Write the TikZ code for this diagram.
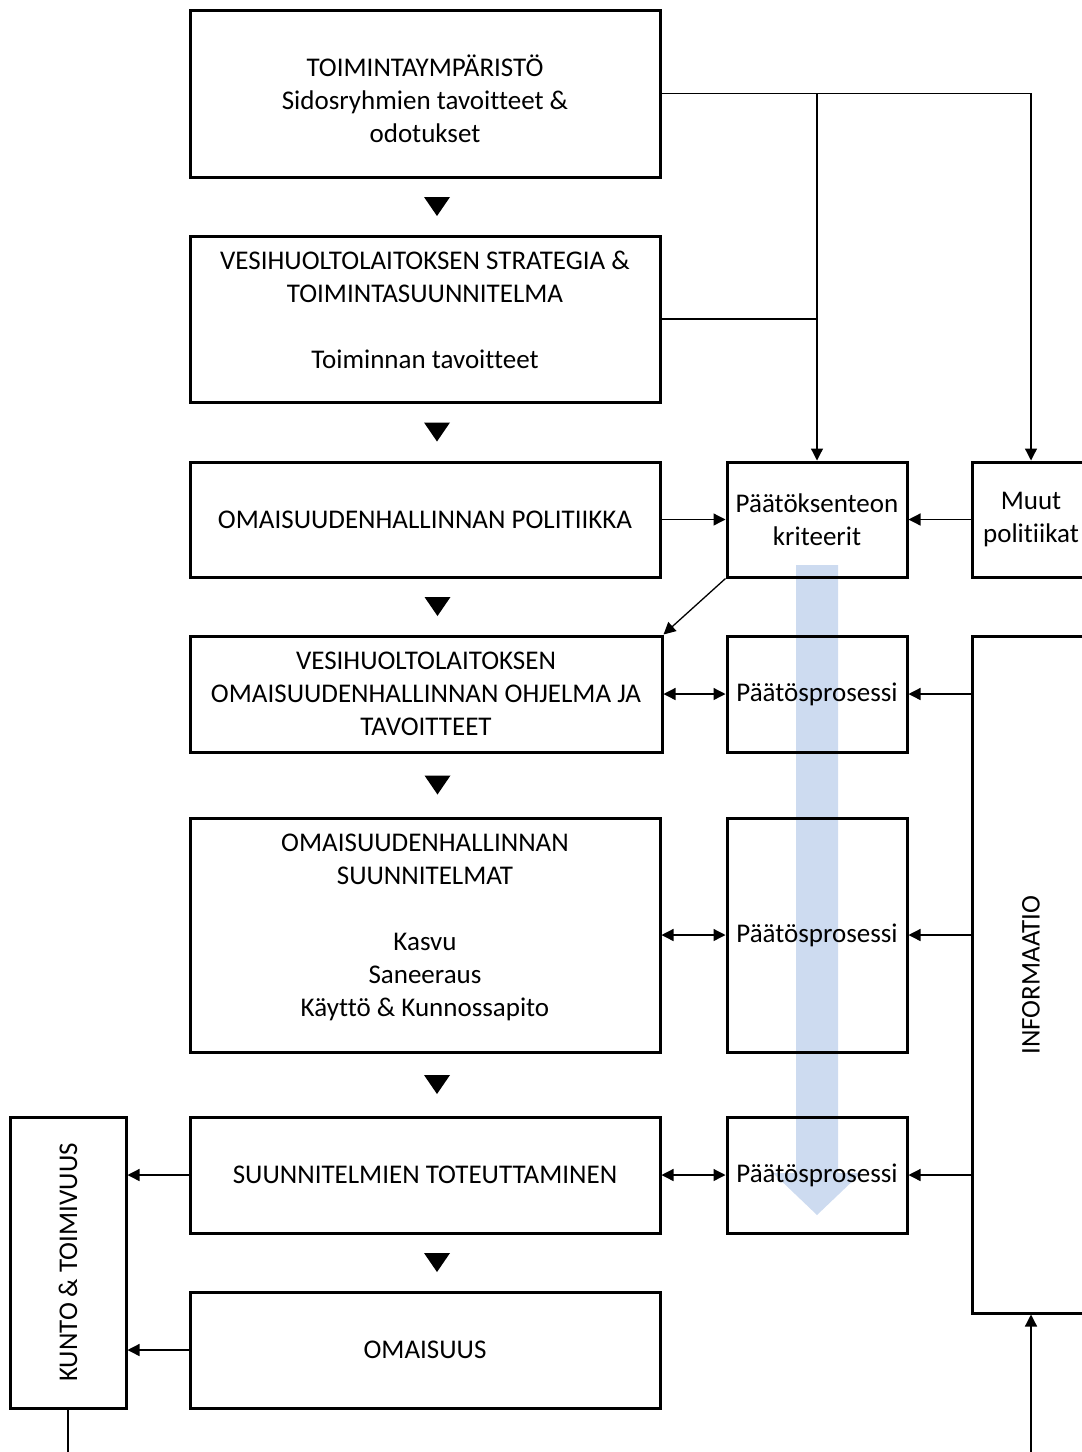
\documentclass[tikz,border=0pt]{standalone}
\usepackage{fontspec}
\setmainfont[Ligatures=NoCommon]{Carlito}
\usetikzlibrary{arrows.meta,calc}
\definecolor{flowblue}{RGB}{205,219,240}
\begin{document}
\begin{tikzpicture}[
        x=0.5pt, y=-0.5pt,
        font=\fontsize{13.5}{16.5}\selectfont,
        box/.style={draw, line width=1.5pt, align=center, inner sep=0pt},
        wide box/.style={box, minimum width=235pt},
        side box/.style={box, minimum width=90pt},
        edge box/.style={box, minimum width=59pt},
        box text/.style={align=center, inner sep=0pt},
        arr/.style={-{Triangle[length=6pt,width=6pt]}, line width=0.65pt},
        darr/.style={{Triangle[length=6pt,width=6pt]}-{Triangle[length=6pt,width=6pt]}, line width=0.65pt},
    ]

    % Kuvan rajat
    \useasboundingbox (0,0) rectangle (1082,1452);
    \clip (0,0) rectangle (1082,1452);

    % Sininen nuoli päätösprosessien takana
    \fill[flowblue] (796,565) -- (838,565) -- (838,1173) -- (861,1173)
        -- (817,1215) -- (773,1173) -- (796,1173) -- cycle;

    % Vasen sarake
    \node[wide box, minimum height=83.5pt] (b1) at (425,93.5) {};
    \node[box text] (b1-txt) at ([yshift=-2.5pt]b1.center)
        {TOIMINTAYMPÄRISTÖ\\Sidosryhmien tavoitteet \&\\odotukset};
    \node[wide box, minimum height=83pt] (b2) at (425,319) {};
    \node[box text] (b2-txt) at ([yshift=4.5pt]b2.center)
        {VESIHUOLTOLAITOKSEN STRATEGIA \&\\TOIMINTASUUNNITELMA\\[16.5pt]Toiminnan tavoitteet};
    \node[wide box, minimum height=57.5pt] (b3) at (425,519.5)
        {OMAISUUDENHALLINNAN POLITIIKKA};
    \node[box, minimum width=236pt, minimum height=58pt] (b4) at (426,694)
        {VESIHUOLTOLAITOKSEN\\OMAISUUDENHALLINNAN OHJELMA JA\\TAVOITTEET};
    \node[wide box, minimum height=117pt] (b5) at (425,935) {};
    \node[box text] (b5-txt) at ([yshift=4pt]b5.center)
        {OMAISUUDENHALLINNAN\\SUUNNITELMAT\\[16.5pt]Kasvu\\Saneeraus\\Käyttö \& Kunnossapito};
    \node[wide box, minimum height=58pt] (b6) at (425,1175)
        {SUUNNITELMIEN TOTEUTTAMINEN};
    \node[wide box, minimum height=58pt] (b7) at (425,1350)
        {OMAISUUS};

    % Kolmiot laatikoiden välissä
    \foreach \a/\b in {b1/b2, b2/b3, b3/b4, b4/b5, b5/b6, b6/b7} {
        \path ($(\a.south)!0.5!(\b.north)$) ++(12,0) coordinate (tri-\a);
        \fill (tri-\a) ++(-13,-9.5) -- ++(26,0) -- ++(-13,19) -- cycle;
    }

    % Päätöksenteko
    \node[side box, minimum height=57.5pt] (krit) at (817,519.5)
        {Päätöksenteon\\kriteerit};
    \node[side box, minimum height=58pt] (pp1) at (817,694) {Päätösprosessi};
    \node[side box, minimum height=117pt] (pp2) at (817,935) {Päätösprosessi};
    \node[side box, minimum height=58pt] (pp3) at (817,1175) {Päätösprosessi};

    % Oikea reuna
    \node[edge box, minimum height=57.5pt] (muut) at (1031,519.5)
        {Muut\\politiikat};
    \node[edge box, minimum height=338.5pt] (info) at (1031,974.5) {};
    \node[rotate=90] (info-txt) at (1031,975) {INFORMAATIO};

    % Vasen reuna
    \node[box, minimum width=58pt, minimum height=145.5pt] (kunto) at (68,1262.5) {};
    \node[rotate=90] (kunto-txt) at (68,1262.5) {KUNTO \& TOIMIVUUS};

    \coordinate (kunto-out) at (68,1460);
    \coordinate (info-in) at (1031,1460);

    % Yhteydet
    \draw[arr] (b1.east) -| (muut.north);
    \draw[arr] (b1.east -| krit.north) -- (krit.north);
    \draw[line width=0.65pt] (b2.east) -- (b2.east -| krit.north);
    \draw[arr] (b3.east) -- (krit.west);
    \draw[arr] (muut.west) -- (krit.east);
    \draw[arr] (krit.south west) -- (b4.north east);

    \foreach \l/\p in {b4/pp1, b5/pp2, b6/pp3} {
        \draw[darr] (\l.east) -- (\p.west);
        \draw[arr] (info.west |- \p.east) -- (\p.east);
    }

    \draw[arr] (b6.west) -- (b6.west -| kunto.east);
    \draw[arr] (b7.west) -- (b7.west -| kunto.east);
    \draw[line width=0.65pt] (kunto.south) -- (kunto-out);
    \draw[arr] (info-in) -- (info.south);

\end{tikzpicture}
\end{document}
